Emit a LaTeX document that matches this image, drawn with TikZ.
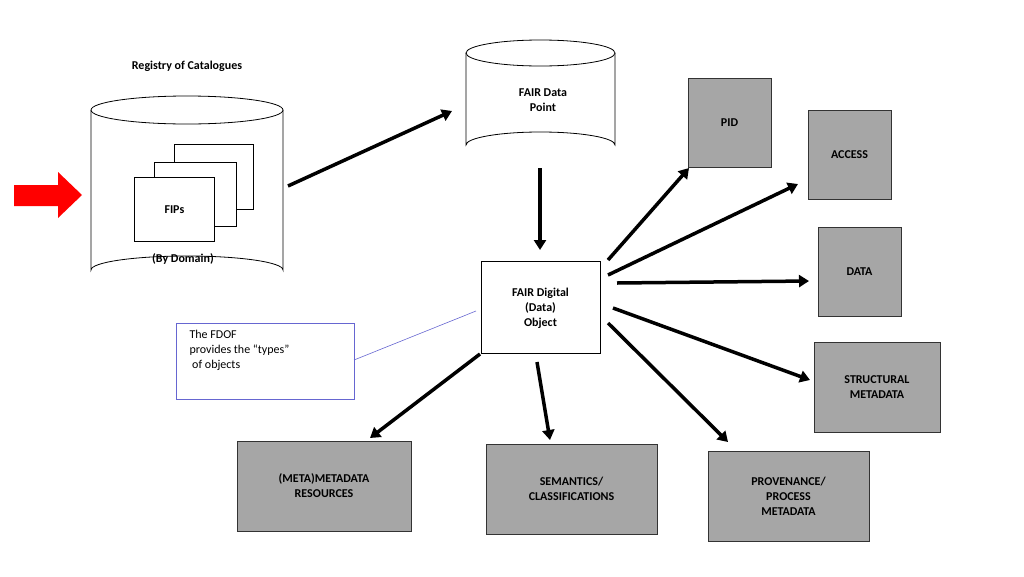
\documentclass[tikz,border=0pt]{standalone}
\usepackage{fontspec}
\setmainfont{Carlito}
\usetikzlibrary{arrows.meta}
\begin{document}
\begin{tikzpicture}[x=1pt,y=-1pt,
 gbox/.style={draw=black!80,fill=black!35,line width=0.8pt,font=\bfseries\fontsize{12}{15}\selectfont,align=center,anchor=north west,inner sep=0pt},
 wbox/.style={draw=black,fill=white,line width=0.8pt,anchor=north west,inner sep=0pt},
 arr/.style={line width=3.5pt,-{Triangle[length=10pt,width=12pt]}},
 lbl/.style={font=\bfseries\fontsize{12}{15}\selectfont,align=center}]
\useasboundingbox (0,0) rectangle (1024,576);
% left cylinder
\draw[line width=0.8pt,fill=white] (91,110) -- (91,270) arc[start angle=180,end angle=360,x radius=96,y radius=14] -- (283,110);
\draw[line width=0.8pt,fill=white] (187,110) ellipse[x radius=96,y radius=14];
\node[lbl] (reg) at (187,66) {Registry of Catalogues};
\node[wbox,minimum width=79pt,minimum height=65pt] (r3) at (174,144) {};
\node[wbox,minimum width=82pt,minimum height=64pt] (r2) at (154,162) {};
\node[wbox,minimum width=80pt,minimum height=64pt,font=\bfseries\fontsize{12}{15}\selectfont] (fips) at (134,177) {FIPs};
\node[lbl] (dom) at (183,259) {(By Domain)};
\fill[red] (14,185) -- (58,185) -- (58,172) -- (82,195) -- (58,218) -- (58,206) -- (14,206) -- cycle;
% FDP cylinder
\draw[line width=0.8pt,fill=white] (466,53) -- (466,145) arc[start angle=180,end angle=360,x radius=74.5,y radius=13] -- (615,53);
\draw[line width=0.8pt,fill=white] (540.5,53) ellipse[x radius=74.5,y radius=13];
\node[lbl] (fdp) at (543,100) {FAIR Data\\Point};
\coordinate (c1) at (288,186); \coordinate (c2) at (452,111);
\draw[arr] (c1) -- (c2);
\coordinate (c3) at (540,168); \coordinate (c4) at (540,250);
\draw[arr] (c3) -- (c4);
\node[wbox,minimum width=119pt,minimum height=92pt] (fdo) at (481,261) {};
\node[lbl] at (540.5,308) {FAIR Digital\\(Data)\\Object};
\node[draw=black!30!blue!60,fill=white,line width=0.6pt,anchor=north west,inner sep=0pt,minimum width=178pt,minimum height=76pt] (cal) at (176,323) {};
\node[font=\fontsize{12}{15}\selectfont,align=left,anchor=north west] (calt) at (186,327) {The FDOF\\provides the “types”\\\ of objects};
\coordinate (l1) at (354,360); \coordinate (l2) at (476,311);
\draw[black!30!blue!60,line width=0.6pt] (l1) -- (l2);
\node[gbox,minimum width=83pt,minimum height=89pt] (pid) at (688,78) {};
\node[lbl] at (729.5,123) {PID};
\node[gbox,minimum width=83pt,minimum height=89pt] (acc) at (808,110) {};
\node[lbl] at (849.5,155) {ACCESS};
\node[gbox,minimum width=83pt,minimum height=89pt] (dat) at (818,227) {};
\node[lbl] at (859.5,272) {DATA};
\node[gbox,minimum width=126pt,minimum height=90pt] (str) at (814,342) {};
\node[lbl] at (877,387) {STRUCTURAL\\METADATA};
\node[gbox,minimum width=161pt,minimum height=90pt] (pro) at (708,451) {};
\node[lbl] at (788.5,496) {PROVENANCE/\\PROCESS\\METADATA};
\node[gbox,minimum width=171pt,minimum height=90pt] (sem) at (486,444) {};
\node[lbl] at (571.5,489) {SEMANTICS/\\CLASSIFICATIONS};
\node[gbox,minimum width=174pt,minimum height=90pt] (met) at (237,441) {};
\node[lbl] at (324,486) {(META)METADATA\\RESOURCES};
\coordinate (a1) at (608,260); \coordinate (b1) at (689,168);
\coordinate (a2) at (608,275); \coordinate (b2) at (798,184);
\coordinate (a3) at (617,283); \coordinate (b3) at (809,281);
\coordinate (a4) at (613,308); \coordinate (b4) at (810,380);
\coordinate (a5) at (608,323); \coordinate (b5) at (728,442);
\coordinate (a6) at (537,362); \coordinate (b6) at (550,440);
\coordinate (a7) at (480,354); \coordinate (b7) at (370,438);
\foreach \i in {1,...,7} {\draw[arr] (a\i) -- (b\i);}
\end{tikzpicture}
\end{document}
